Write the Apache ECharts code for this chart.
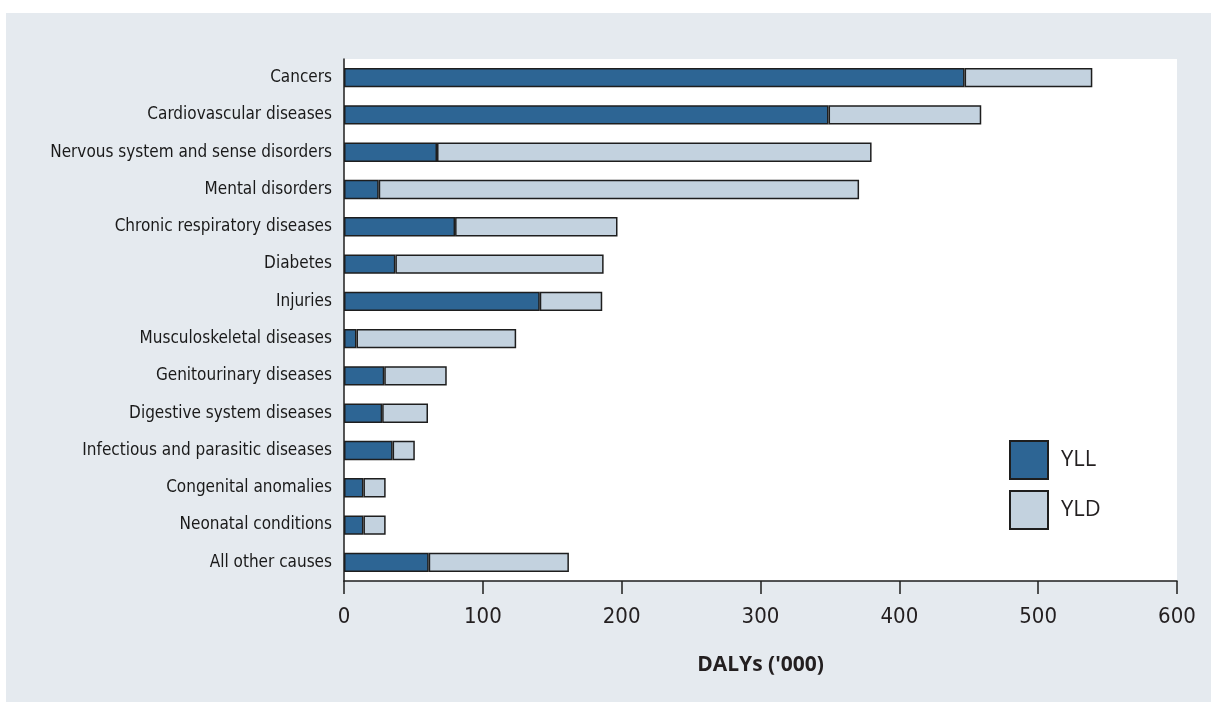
<!DOCTYPE html>
<html>
<head>
<meta charset="utf-8">
<script src="https://cdn.jsdelivr.net/npm/echarts@6/dist/echarts.min.js"></script>
<style>
html,body{margin:0;padding:0;background:#ffffff;}
#chart{width:1211px;height:702px;}
</style>
</head>
<body>
<div id="chart"></div>
<script>
const categories = [
  "Cancers",
  "Cardiovascular diseases",
  "Nervous system and sense disorders",
  "Mental disorders",
  "Chronic respiratory diseases",
  "Diabetes",
  "Injuries",
  "Musculoskeletal diseases",
  "Genitourinary diseases",
  "Digestive system diseases",
  "Infectious and parasitic diseases",
  "Congenital anomalies",
  "Neonatal conditions",
  "All other causes"
];
const yll = [447, 349, 67, 25, 80, 37, 141, 9, 29, 27.5, 35, 14, 14, 61];
const yld = [92, 110, 313, 346, 117, 150, 45, 115, 45, 33, 16, 16, 16, 101];
const xMin = 0, xMax = 600, xStep = 100;

const chart = echarts.init(document.getElementById('chart'));
const font = "'Liberation Sans Narrow', 'DejaVu Sans Condensed', 'Noto Sans', sans-serif";
const border = { borderColor: '#1e1e1e', borderWidth: 1.5 };

chart.setOption({
  animation: false,
  backgroundColor: '#ffffff',
  graphic: [{
    type: 'rect', left: 6, top: 13, z: -10,
    shape: { width: 1205, height: 689 },
    style: { fill: '#e5eaef' }
  }],
  grid: {
    left: 344, top: 59, width: 833, height: 522,
    show: true, backgroundColor: '#ffffff', borderWidth: 0,
    containLabel: false
  },
  legend: {
    orient: 'vertical', left: 1004, top: 435,
    itemWidth: 38, itemHeight: 38, itemGap: 10,
    icon: 'rect',
    textStyle: { fontSize: 22, color: '#231f20', fontFamily: "'Open Sans', 'Noto Sans', sans-serif", padding: [0, 0, 0, 8] },
    data: ['YLL', 'YLD']
  },
  xAxis: {
    type: 'value', min: xMin, max: xMax, interval: xStep,
    axisLine: { show: true, lineStyle: { color: '#1e1e1e', width: 1.5 } },
    axisTick: { show: true, length: 13, lineStyle: { color: '#1e1e1e', width: 1.5 } },
    splitLine: { show: false },
    axisLabel: { fontSize: 22, color: '#231f20', margin: 25, fontFamily: font },
    name: "DALYs ('000)", nameLocation: 'middle', nameGap: 74,
    nameTextStyle: { fontSize: 21, fontWeight: 'bold', color: '#231f20', fontFamily: "'Open Sans', 'Noto Sans', sans-serif" }
  },
  yAxis: {
    type: 'category', data: categories, inverse: true,
    axisLine: { show: true, lineStyle: { color: '#1e1e1e', width: 1.5 } },
    axisTick: { show: false },
    axisLabel: { fontSize: 17, color: '#1a1a1a', margin: 12, fontFamily: font }
  },
  series: [
    {
      name: 'YLL', type: 'bar', stack: 'total', data: yll,
      barCategoryGap: '48%',
      itemStyle: Object.assign({ color: '#2d6594' }, border)
    },
    {
      name: 'YLD', type: 'bar', stack: 'total', data: yld,
      barCategoryGap: '48%',
      itemStyle: Object.assign({ color: '#c3d2df' }, border)
    }
  ]
});
</script>
</body>
</html>
